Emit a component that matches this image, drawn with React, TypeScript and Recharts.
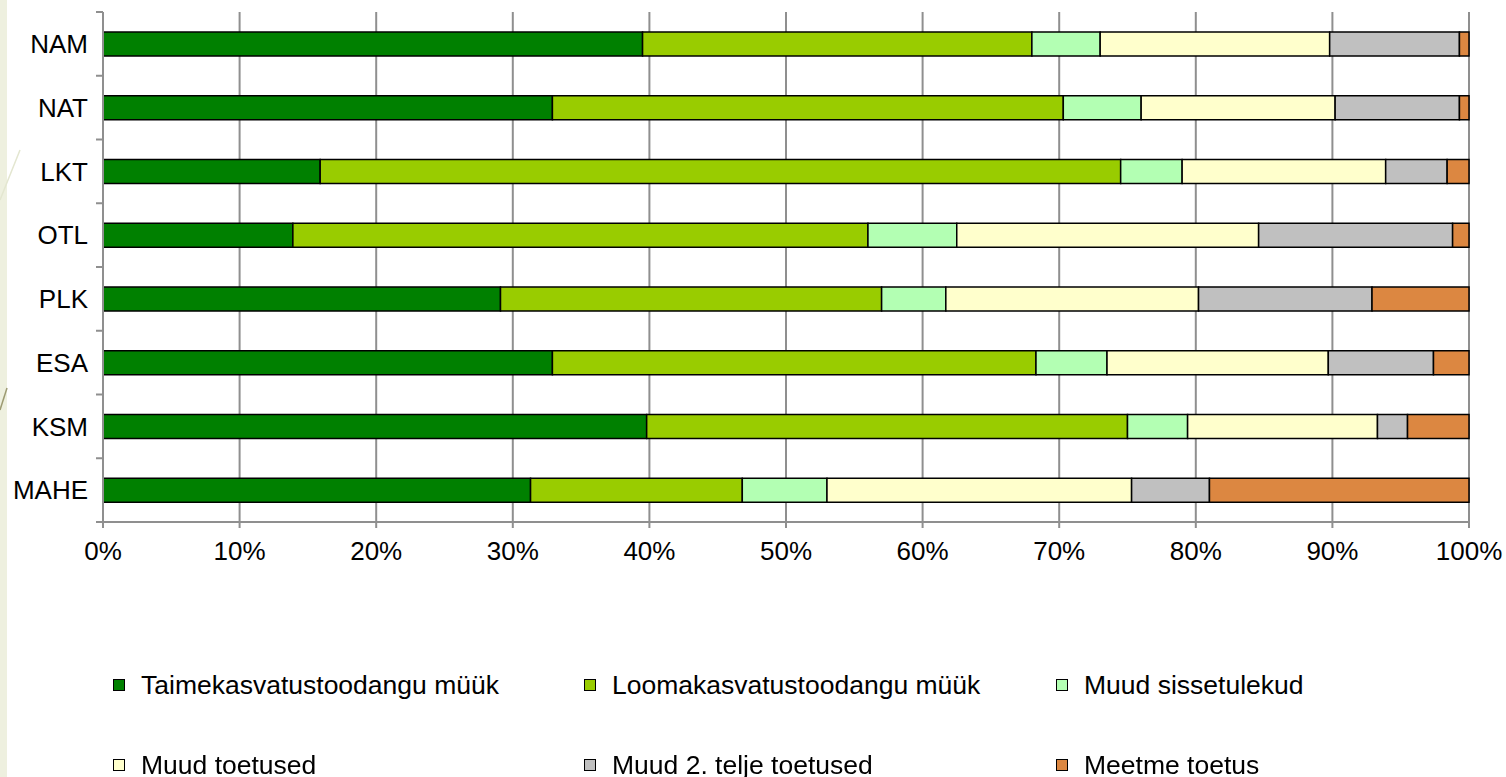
import { BarChart, Bar, XAxis, YAxis, CartesianGrid } from "recharts";

const groups = ["NAM", "NAT", "LKT", "OTL", "PLK", "ESA", "KSM", "MAHE"];

const taime = [39.5, 32.9, 15.9, 13.9, 29.1, 32.9, 39.8, 31.3];
const looma = [28.5, 37.4, 58.6, 42.1, 27.9, 35.4, 35.2, 15.5];
const muudSisse = [5.0, 5.7, 4.5, 6.5, 4.7, 5.2, 4.4, 6.2];
const muudToetused = [16.8, 14.2, 14.9, 22.1, 18.5, 16.2, 13.9, 22.3];
const teiseTelje = [9.5, 9.1, 4.5, 14.2, 12.7, 7.7, 2.2, 5.7];
const meetme = [0.7, 0.7, 1.6, 1.2, 7.1, 2.6, 4.5, 19.0];

const xTicks = [0, 0.1, 0.2, 0.3, 0.4, 0.5, 0.6, 0.7, 0.8, 0.9, 1];

const series = [
  { key: "taime", name: "Taimekasvatustoodangu müük", color: "#008000", values: taime },
  { key: "looma", name: "Loomakasvatustoodangu müük", color: "#99CC00", values: looma },
  { key: "sisse", name: "Muud sissetulekud", color: "#B3FFB3", values: muudSisse },
  { key: "toet", name: "Muud toetused", color: "#FFFFCC", values: muudToetused },
  { key: "telje", name: "Muud 2. telje toetused", color: "#C0C0C0", values: teiseTelje },
  { key: "meetme", name: "Meetme toetus", color: "#DC8741", values: meetme },
];

const data = groups.map((g, i) => {
  const row: Record<string, string | number> = { group: g };
  series.forEach((s) => (row[s.key] = s.values[i]));
  return row;
});

const FONT = "'Liberation Sans', Arial, sans-serif";
const GRID = "#8f8f8f";

// category ticks sit at band edges like in Excel, labels in the middle
function CategoryTick(props: any) {
  const { x, y, payload, index, visibleTicksCount } = props;
  const half = payload?.offset ?? 31.875;
  const last = index === (visibleTicksCount ?? groups.length) - 1;
  return (
    <g>
      <line x1={x + 8} x2={x + 15} y1={y - half} y2={y - half} stroke={GRID} strokeWidth={2} />
      {last && <line x1={x + 8} x2={x + 15} y1={y + half} y2={y + half} stroke={GRID} strokeWidth={2} />}
      <text x={x} y={y} dy="0.36em" textAnchor="end" fill="#000" fontSize={26} fontFamily={FONT}>
        {payload.value}
      </text>
    </g>
  );
}

const legendPos = [
  { left: 113, top: 672 },
  { left: 584, top: 672 },
  { left: 1056, top: 672 },
  { left: 113, top: 752 },
  { left: 584, top: 752 },
  { left: 1056, top: 752 },
];

export default function App() {
  return (
    <div style={{ position: "fixed", left: 0, top: 0, width: 1506, height: 777, background: "#fff", fontFamily: FONT }}>
      <div style={{ position: "absolute", left: 0, top: 0, width: 7, height: 777, background: "#EEF0DF" }} />
      <svg width={24} height={777} style={{ position: "absolute", left: 0, top: 0 }}>
        <line x1={0} y1={200} x2={20} y2={150} stroke="#E3E6D0" strokeWidth={1.5} />
        <line x1={0} y1={410} x2={7} y2={388} stroke="#9C9A72" strokeWidth={1.5} />
      </svg>
      <div style={{ position: "absolute", left: 0, top: 0 }}>
        <BarChart
          width={1506}
          height={600}
          data={data}
          layout="vertical"
          stackOffset="expand"
          barSize={24}
          margin={{ top: 12, right: 37, bottom: 38, left: 0 }}
        >
          <CartesianGrid horizontal={false} stroke={GRID} strokeWidth={2} />
          <XAxis
            type="number"
            domain={[0, 1]}
            ticks={xTicks}
            tickFormatter={(v: number) => `${Math.round(v * 100)}%`}
            axisLine={{ stroke: GRID, strokeWidth: 2 }}
            tickLine={{ stroke: GRID, strokeWidth: 2 }}
            tickSize={6}
            tickMargin={14}
            tick={{ fill: "#000", fontSize: 26, fontFamily: FONT }}
            height={40}
            interval={0}
          />
          <XAxis
            xAxisId="top"
            orientation="top"
            type="number"
            domain={[0, 1]}
            tick={false}
            tickLine={false}
            axisLine={{ stroke: GRID, strokeWidth: 2 }}
            height={0}
          />
          <YAxis
            type="category"
            dataKey="group"
            width={103}
            axisLine={{ stroke: GRID, strokeWidth: 2 }}
            tickLine={false}
            tickSize={0}
            tickMargin={15}
            tick={<CategoryTick />}
            interval={0}
          />
          {series.map((s) => (
            <Bar
              key={s.key}
              dataKey={s.key}
              name={s.name}
              stackId="a"
              fill={s.color}
              stroke="#000"
              strokeWidth={1.5}
              isAnimationActive={false}
            />
          ))}
        </BarChart>
      </div>
      {series.map((s, i) => (
        <div
          key={s.key}
          style={{
            position: "absolute",
            left: legendPos[i].left,
            top: legendPos[i].top,
            display: "flex",
            alignItems: "center",
            fontSize: 26.5,
            color: "#000",
            whiteSpace: "nowrap",
            lineHeight: "26px",
          }}
        >
          <span
            style={{
              display: "inline-block",
              width: 10,
              height: 10,
              background: s.color,
              border: "1.5px solid #000",
              marginRight: 16,
            }}
          />
          {s.name}
        </div>
      ))}
    </div>
  );
}
